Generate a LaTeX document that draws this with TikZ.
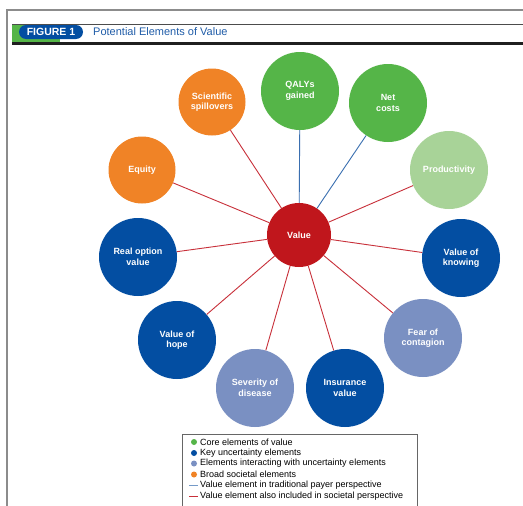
\documentclass[tikz,border=0pt]{standalone}
\usepackage{fontspec}
\setmainfont{Liberation Sans}
\begin{document}
\definecolor{coregreen}{HTML}{55B548}
\definecolor{keyblue}{HTML}{034EA2}
\definecolor{interblue}{HTML}{7A90C2}
\definecolor{broadorange}{HTML}{F08326}
\definecolor{lightgreen}{HTML}{A8D398}
\definecolor{valuered}{HTML}{C0161C}
\definecolor{payerline}{HTML}{3A6FB0}
\definecolor{socline}{HTML}{C8303A}
\definecolor{titleblue}{HTML}{1F5CA8}
\definecolor{framegray}{HTML}{8C8C8C}
\begin{tikzpicture}[x=1pt,y=-1pt,
  elem/.style={circle,inner sep=0pt,minimum size=78pt,text=white,align=center,
    font=\fontsize{9}{10.5}\selectfont\bfseries},
  core/.style={elem,fill=coregreen},
  key/.style={elem,fill=keyblue},
  inter/.style={elem,fill=interblue},
  broad/.style={elem,fill=broadorange,minimum size=67pt},
  prod/.style={elem,fill=lightgreen},
  payer/.style={draw=payerline,line width=0.9pt},
  societal/.style={draw=socline,line width=0.9pt},
  legtext/.style={anchor=west,inner sep=0pt,font=\fontsize{9}{10}\selectfont},
  legdot/.style={circle,inner sep=0pt,minimum size=6pt}]
\useasboundingbox (0,0) rectangle (523,506);
\fill[white] (0,0) rectangle (523,506);

% page frame and header rules
\draw[framegray,line width=1.2pt] (7,506) -- (7,10) -- (523,10);
\draw[black!70,line width=0.7pt] (12,24) -- (523,24);
\fill[coregreen] (12,25) rectangle (60,42);
\fill[black!88] (12,42) rectangle (523,45);
\node[fill=keyblue,rounded corners=7pt,minimum width=64pt,minimum height=14pt,
  inner sep=0pt,text=white,font=\fontsize{10.5}{11}\selectfont\bfseries] (tag) at (51,32) {FIGURE 1};
\node[anchor=west,inner sep=0pt,text=titleblue,font=\fontsize{11}{12}\selectfont] (title) at (93,32) {Potential Elements of Value};

% value elements
\node[elem,fill=valuered,minimum size=64pt] (value) at (299,235) {Value};
\node[core] (qaly) at (300,91) {QALYs\\gained};
\node[core] (net) at (388,103) {Net\\costs};
\node[prod] (prod) at (449,170) {Productivity};
\node[key] (know) at (461,258) {Value of\\knowing};
\node[inter] (fear) at (423,338) {Fear of\\contagion};
\node[key] (ins) at (345,388) {Insurance\\value};
\node[inter] (sev) at (255,388) {Severity of\\disease};
\node[key] (hope) at (177,340) {Value of\\hope};
\node[key] (real) at (138,257) {Real option\\value};
\node[broad] (equity) at (142,170) {Equity};
\node[broad] (sci) at (212,102) {Scientific\\spillovers};

% connectors
\draw[payer] (value) -- (qaly);
\draw[payer] (value) -- (net);
\foreach \n in {prod,know,fear,ins,sev,hope,real,equity,sci}
  \draw[societal] (value) -- (\n);

% legend
\draw[black!60,line width=0.8pt] (182,506) -- (182,434) -- (417,434) -- (417,506);
\node[legdot,fill=coregreen] (d1) at (194,442) {};
\node[legtext] (l1) at (200,442) {Core elements of value};
\node[legdot,fill=keyblue] (d2) at (194,453) {};
\node[legtext] (l2) at (200,453) {Key uncertainty elements};
\node[legdot,fill=interblue] (d3) at (194,463.5) {};
\node[legtext] (l3) at (200,463.5) {Elements interacting with uncertainty elements};
\node[legdot,fill=broadorange] (d4) at (194,474.5) {};
\node[legtext] (l4) at (200,474.5) {Broad societal elements};
\coordinate (p1) at (189,485.5);
\coordinate (p2) at (198,485.5);
\draw[draw=payerline!70,line width=0.9pt] (p1) -- (p2);
\node[legtext] (l5) at (200,485.5) {Value element in traditional payer perspective};
\coordinate (s1) at (189,496.5);
\coordinate (s2) at (198,496.5);
\draw[draw=socline,line width=0.9pt] (s1) -- (s2);
\node[legtext] (l6) at (200,496.5) {Value element also included in societal perspective};
\end{tikzpicture}
\end{document}
